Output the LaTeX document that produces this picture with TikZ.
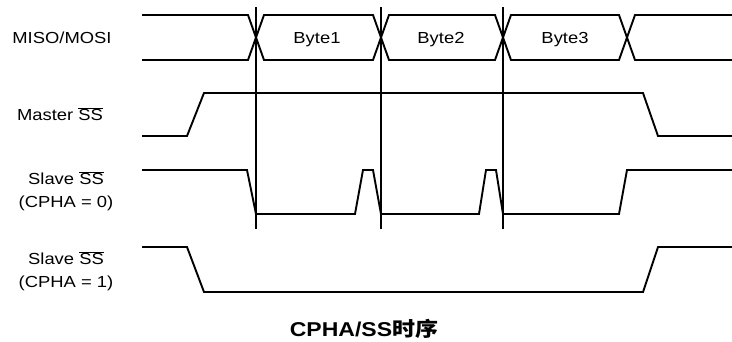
\documentclass[tikz,border=0pt]{standalone}
\usepackage{fontspec}
\usepackage{tikz}
\usetikzlibrary{positioning}
\setmainfont{Liberation Sans}
\newfontfamily\cjk{Noto Sans CJK SC}
\newcommand{\wide}[1]{\scalebox{1.15}[1]{#1}}
\tikzset{
  signal/.style={line width=1.9pt, line join=miter, color=black},
  marker/.style={line width=1.9pt, color=black},
  siglabel/.style={font=\fontsize{16}{23}\selectfont, align=center, inner sep=0pt},
  bytelabel/.style={font=\fontsize{16}{19}\selectfont, inner sep=0pt},
  titlelabel/.style={font=\fontsize{20}{24}\selectfont\bfseries, inner sep=0pt}
}

\begin{document}
\begin{tikzpicture}[x=1pt, y=-1pt]
  \useasboundingbox (0,0) rectangle (732,342);

  % ── Sample markers ─────────────────────────────────────────────────────────
  \foreach \xs in {256,381,503}
    \draw[marker] (\xs,7) -- (\xs,229);

  % ── MISO/MOSI data lines ───────────────────────────────────────────────────
  \draw[signal] (142,15) -- (248,15) -- (264,60) -- (373,60) -- (389,15)
    -- (495,15) -- (511,60) -- (619,60) -- (635,15) -- (732,15);
  \draw[signal] (142,60) -- (248,60) -- (264,15) -- (373,15) -- (389,60)
    -- (495,60) -- (511,15) -- (619,15) -- (635,60) -- (732,60);

  % ── Master SS ──────────────────────────────────────────────────────────────
  \draw[signal] (142,136) -- (187,136) -- (204,93) -- (643,93) -- (658,136) -- (732,136);

  % ── Slave SS, CPHA = 0 ─────────────────────────────────────────────────────
  \draw[signal] (142,170) -- (247,170) -- (256,214) -- (355,214) -- (363,170)
    -- (373,170) -- (381,214) -- (479,214) -- (486,170) -- (496,170)
    -- (503,214) -- (619,214) -- (627,170) -- (732,170);

  % ── Slave SS, CPHA = 1 ─────────────────────────────────────────────────────
  \draw[signal] (142,247) -- (187,247) -- (204,292) -- (643,292) -- (658,247) -- (732,247);

  % ── Labels ─────────────────────────────────────────────────────────────────
  \node[siglabel] (lmiso) at (62,38) {\wide{MISO/MOSI}};
  \node[siglabel, anchor=base] (lmaster) at (60,121) {\wide{Master $\overline{\mbox{SS}}$}};
  \node[siglabel] (lslave0) at (66,191) {\wide{Slave $\overline{\mbox{SS}}$}\\\wide{(CPHA = 0)}};
  \node[siglabel] (lslave1) at (66,271) {\wide{Slave $\overline{\mbox{SS}}$}\\\wide{(CPHA = 1)}};
  % Byte fields
  \node[bytelabel, anchor=base] (byte1) at (317,43.5) {\wide{Byte1}};
  \node[bytelabel, anchor=base] (byte2) at (441,43.5) {\wide{Byte2}};
  \node[bytelabel, anchor=base] (byte3) at (565,43.5) {\wide{Byte3}};
  % Title
  \node[titlelabel, anchor=base] (title) at (364,336) {\wide{CPHA/SS{\cjk 时序}}};
\end{tikzpicture}
\end{document}
